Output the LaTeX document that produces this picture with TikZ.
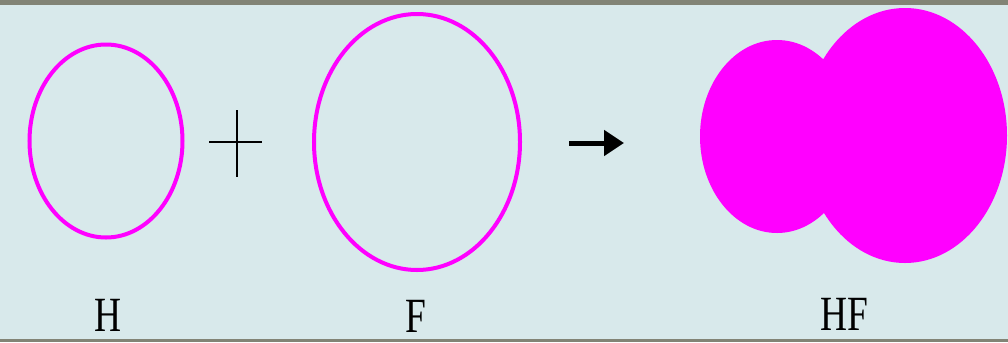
\documentclass[tikz,border=0pt]{standalone}
\usepackage{fontspec}
\setmainfont{Liberation Serif}
\usetikzlibrary{arrows.meta,shapes.geometric}
\definecolor{atomcolor}{RGB}{255,0,255}
\definecolor{slidebg}{RGB}{216,233,235}
\definecolor{stripcolor}{RGB}{130,132,118}

\begin{document}
\begin{tikzpicture}[
    x=0.25mm, y=-0.25mm,
    orbit/.style={ellipse, draw=atomcolor, line width=1mm, inner sep=0pt},
    cloud/.style={ellipse, fill=atomcolor, inner sep=0pt},
    symbol/.style={line width=0.5mm},
    atomname/.style={anchor=base, inner sep=0pt, font=\fontsize{35}{35}\selectfont},
    >=Triangle
  ]
    \useasboundingbox (0,0) rectangle (1008,342);
    \fill[slidebg] (0,0) rectangle (1008,342);

    % separate atoms
    \node[orbit, minimum width=38.25mm, minimum height=48.25mm] (h) at (106,141) {};
    \node[orbit, minimum width=51.5mm, minimum height=64mm] (f) at (417,142) {};

    % plus sign
    \draw[symbol] (209,142) -- (262,142);
    \draw[symbol] (237,110) -- (237,177);

    % reaction arrow
    \coordinate (arrstart) at (569,143);
    \coordinate (arrend) at (624,143);
    \draw[->, line width=1.25mm, >={Triangle[length=5mm,width=6.25mm]}] (arrstart) -- (arrend);

    % bonded molecule
    \node[cloud, minimum width=38.5mm, minimum height=48.25mm] (hcloud) at (777,136.5) {};
    \node[cloud, minimum width=51mm, minimum height=63.75mm] (fcloud) at (905,135.5) {};

    \node[atomname] (hname) at (108,331) {\scalebox{0.76}[1]{H}};
    \node[atomname] (fname) at (416,332) {\scalebox{0.76}[1]{F}};
    \node[atomname] (hfname) at (844,330) {\scalebox{0.76}[1]{HF}};

    \fill[stripcolor] (0,0) rectangle (1008,5);
    \fill[stripcolor] (0,339) rectangle (1008,342);
  \end{tikzpicture}
\end{document}
